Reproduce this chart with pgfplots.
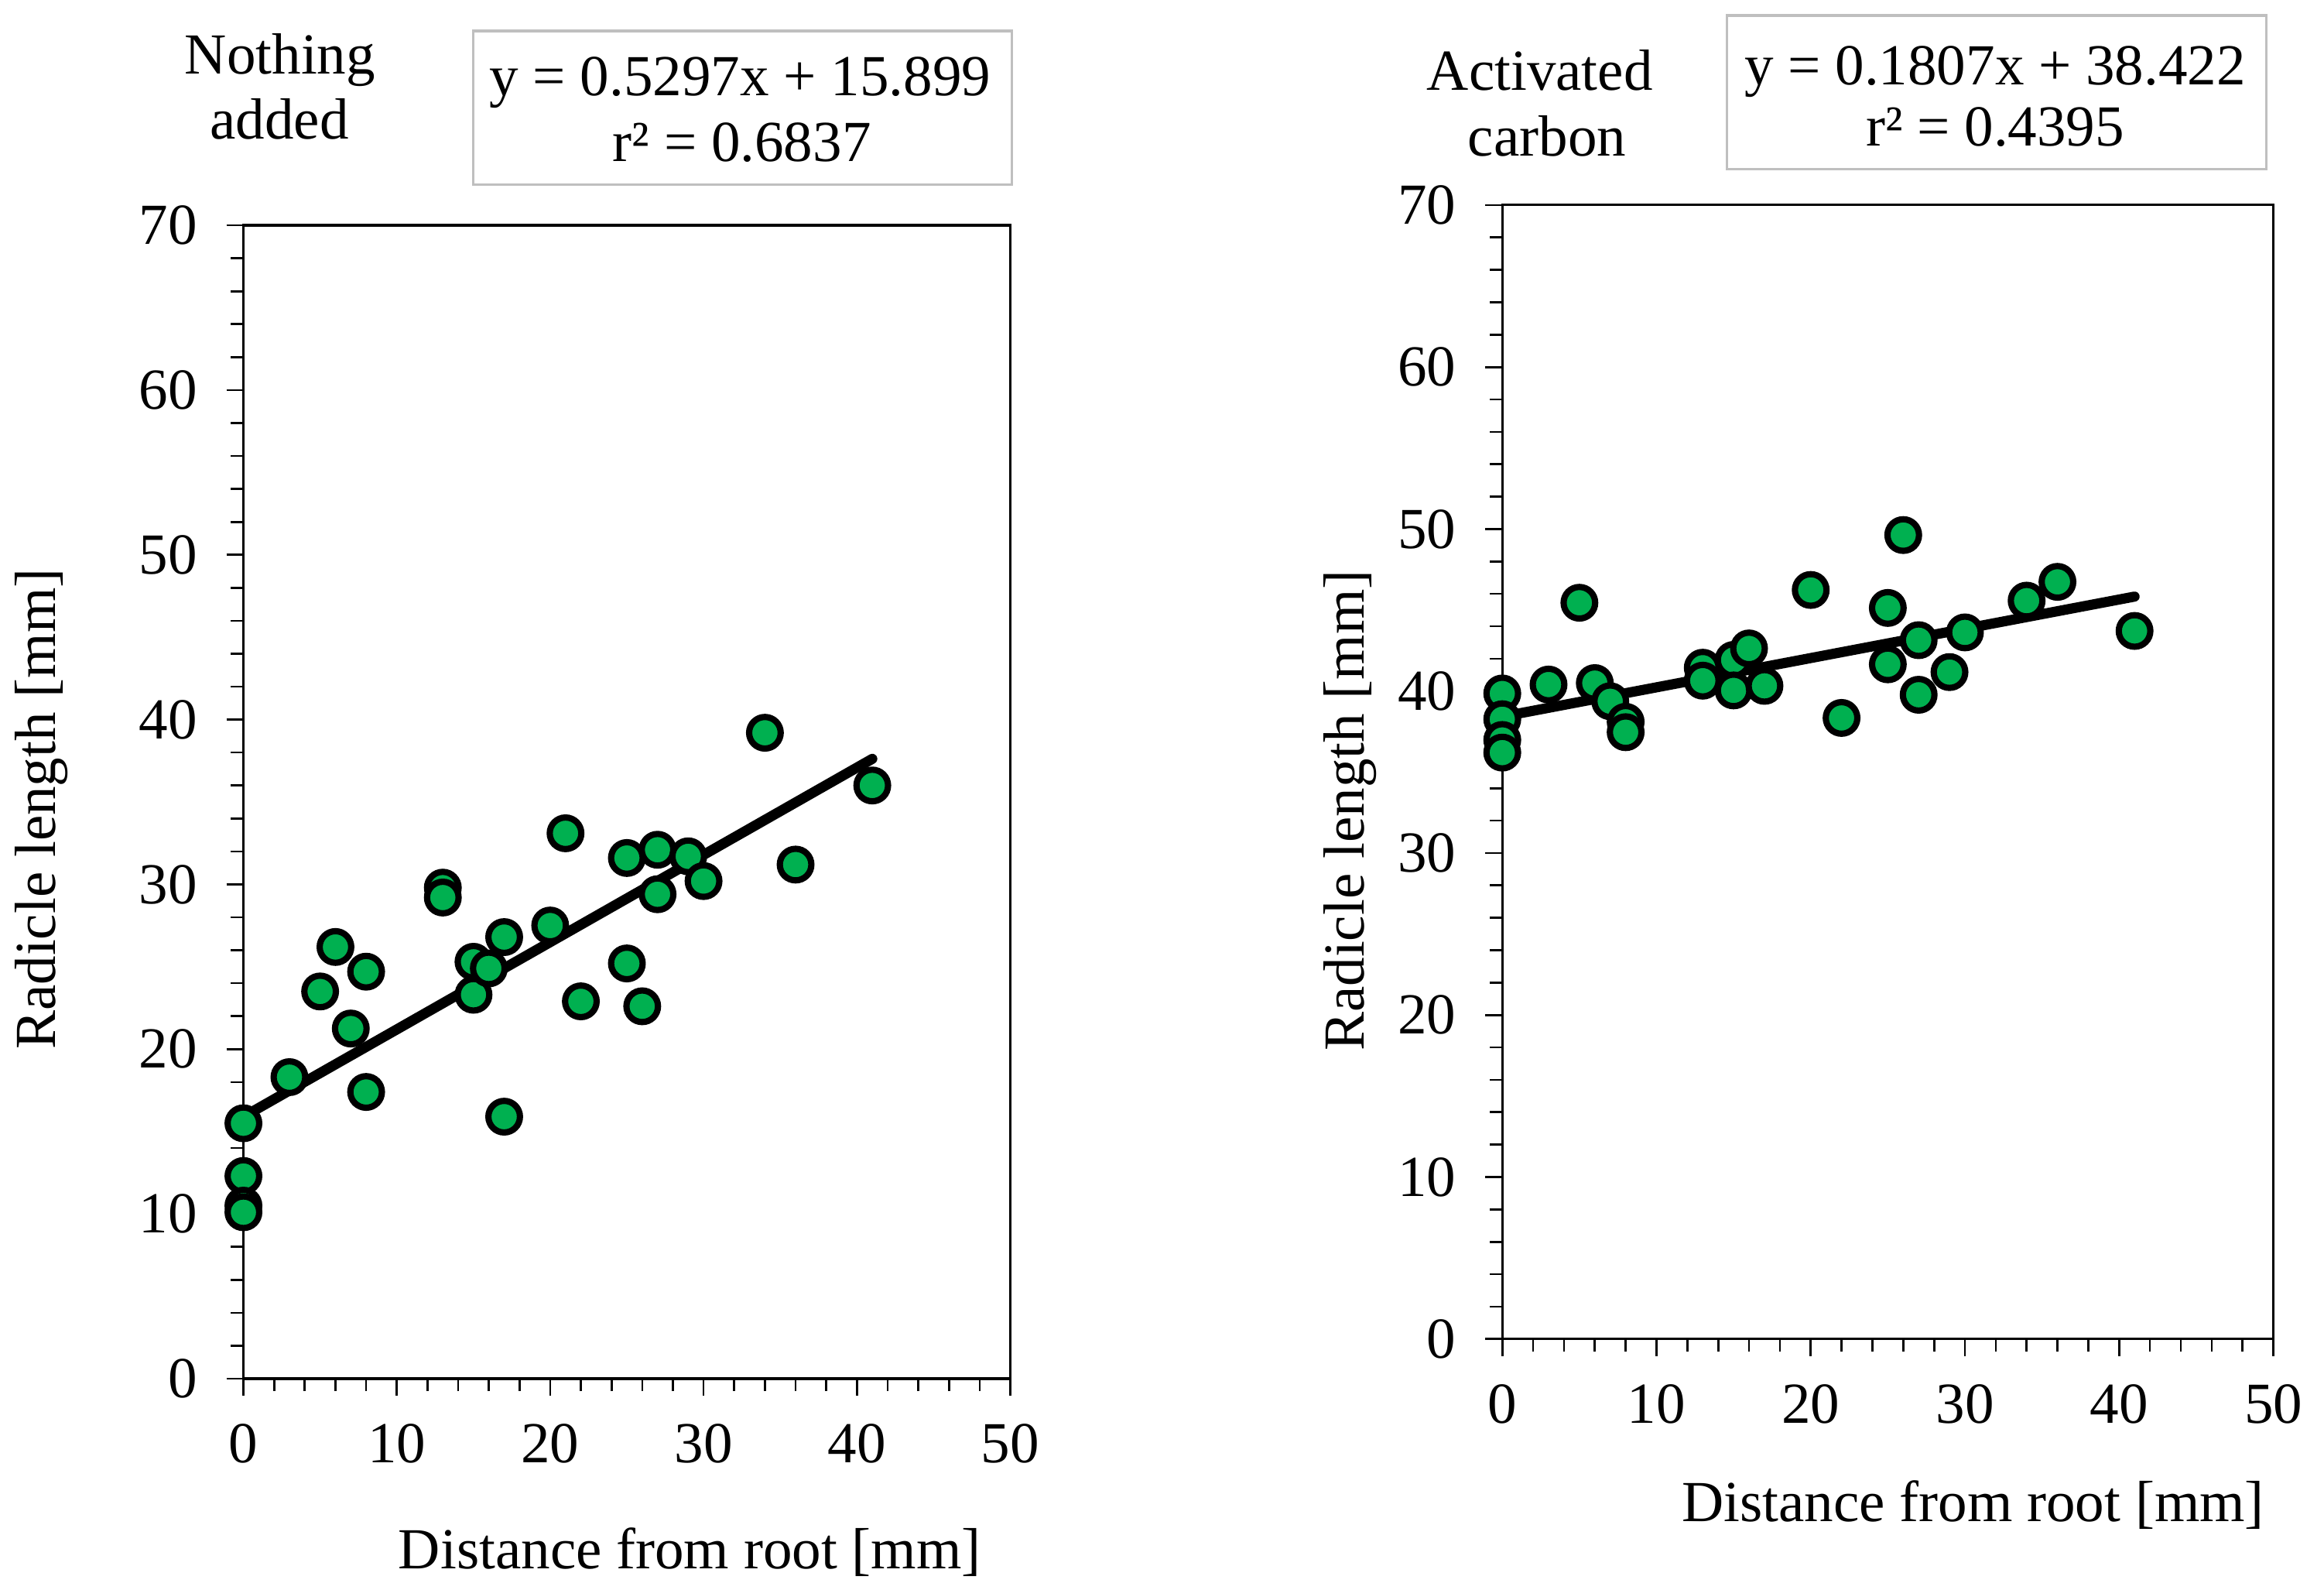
\documentclass[border=0pt]{standalone}
\usepackage{fontspec}
\setmainfont{Liberation Serif}
\usepackage{pgfplots}
\pgfplotsset{compat=1.18}
\definecolor{mkgreen}{RGB}{0,176,80}
\definecolor{boxgray}{RGB}{191,191,191}
\newcommand{\fs}{\fontsize{9.75pt}{11pt}\selectfont}
\pgfplotsset{myax/.style={
  scale only axis, anchor=south west,
  xmin=0,xmax=50,ymin=0,ymax=70,
  xtick={0,10,...,50}, ytick={0,10,...,70},
  minor x tick num=4, minor y tick num=4,
  xtick pos=bottom, ytick pos=left,
  tick align=outside,
  major tick length=2.85pt, minor tick length=2.1pt,
  axis line style={line width=0.4pt},
  every tick/.style={black, line width=0.35pt},
  tick label style={font=\fs},
  xticklabel style={yshift=-1.2pt},
  yticklabel style={xshift=-1.4pt},
  /pgf/number format/assume math mode=true,
}}
\pgfplotsset{mkstyle/.style={only marks, mark=*, mark size=2.65pt, mark options={fill=mkgreen, draw=black, line width=1.05pt}}}
\begin{document}
\begin{tikzpicture}
\path[use as bounding box] (0,0) rectangle (390pt,266.75pt);
\begin{axis}[myax, at={(40.85pt,35.45pt)}, width=128.7pt, height=193.5pt]
\addplot[mkstyle] coordinates {
(0,15.5)(0,12.3)(0,10.5)(0,10.1)(3,18.3)(5,23.5)(6,26.2)(7,21.25)(8,24.7)(8,17.4)
(13,29.8)(13,29.2)(15,25.3)(15,23.3)(16,24.9)(17,26.8)(17,15.9)(20,27.5)(21,33.1)(22,22.9)
(25,31.6)(25,25.2)(26,22.6)(27,32.1)(27,29.4)(29,31.7)(30,30.2)(34,39.2)(36,31.2)(41,36.0)};
\addplot[black, line width=1.7pt, line cap=round] coordinates {(0,15.899) (41,37.6167)};
\end{axis}
\begin{axis}[myax, at={(252.1pt,42.1pt)}, width=129.4pt, height=190.25pt]
\addplot[mkstyle] coordinates {
(0,39.85)(0,38.26)(0,36.98)(0,36.2)(3,40.4)(5,45.45)(6,40.49)(7,39.37)(8,38.1)(8,37.46)
(13,41.44)(13,40.64)(15,41.92)(15,40.04)(16,42.63)(17,40.32)(20,46.24)(22,38.34)
(25,45.13)(25,41.65)(26,49.63)(27,43.14)(27,39.77)(29,41.17)(30,43.62)(34,45.58)(36,46.74)(41,43.71)};
\addplot[black, line width=1.7pt, line cap=round] coordinates {(0,38.422) (41,45.8307)};
\end{axis}
\begin{scope}[every node/.style={font=\fs, inner sep=0pt}]
% axis labels
\node[anchor=base] at (115.75pt,3.55pt) {Distance from root [mm]};
\node[anchor=base] at (331.1pt,11.55pt) {Distance from root [mm]};
\node[rotate=90, anchor=center] at (7pt,131pt) {Radicle length [mm]};
\node[rotate=90, anchor=center] at (226.5pt,130.75pt) {Radicle length [mm]};
% titles
\node[anchor=base] at (47pt,254.28pt) {Nothing};
\node[anchor=base] at (46.9pt,243.4pt) {added};
\node[anchor=base] at (258.4pt,251.6pt) {Activated};
\node[anchor=base] at (259.6pt,240.55pt) {carbon};
% equation boxes
\draw[boxgray, line width=0.4pt] (79.4pt,235.8pt) rectangle (169.8pt,261.55pt);
\node[anchor=base] at (124.2pt,250.7pt) {y = 0.5297x + 15.899};
\node[anchor=base] at (124.5pt,239.7pt) {r² = 0.6837};
\draw[boxgray, line width=0.4pt] (289.85pt,238.4pt) rectangle (380.3pt,264.15pt);
\node[anchor=base] at (334.8pt,252.5pt) {y = 0.1807x + 38.422};
\node[anchor=base] at (334.8pt,242.3pt) {r² = 0.4395};
\end{scope}
\end{tikzpicture}
\end{document}
